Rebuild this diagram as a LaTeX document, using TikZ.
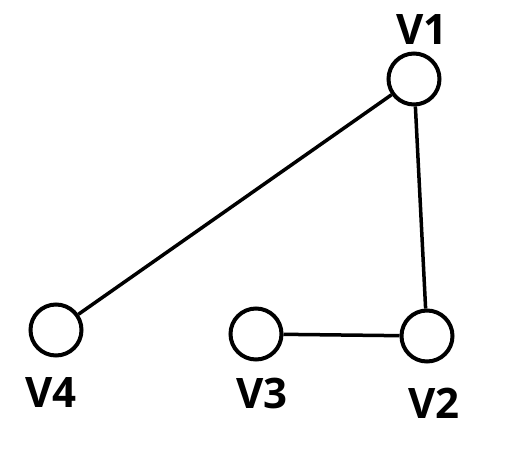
\documentclass[tikz,border=0pt]{standalone}
\usepackage{fontspec}
\setmainfont{Open Sans}
\begin{document}
\begin{tikzpicture}[x=1pt,y=-1pt]
\tikzstyle{every node}=[inner sep=0pt]
\tikzstyle{vertex}=[circle, draw, line width=4pt, minimum size=51pt]
\tikzstyle{vlabel}=[font=\fontsize{42}{42}\selectfont\bfseries]
\useasboundingbox (0,0) rectangle (520,450);
\draw (414,79) node (v1) [vertex] {};
\draw (427,336) node (v2) [vertex] {};
\draw (256,334) node (v3) [vertex] {};
\draw (56,330) node (v4) [vertex] {};
\draw (422,30) node (l1) [vlabel] {V1};
\draw (434,403) node (l2) [vlabel] {V2};
\draw (262,393) node (l3) [vlabel] {V3};
\draw (51,393) node (l4) [vlabel] {V4};
\draw[line width=3.5pt] (v1) -- (v4);
\draw[line width=3.5pt] (v1) -- (v2);
\draw[line width=3.5pt] (v3) -- (v2);
\end{tikzpicture}
\end{document}
